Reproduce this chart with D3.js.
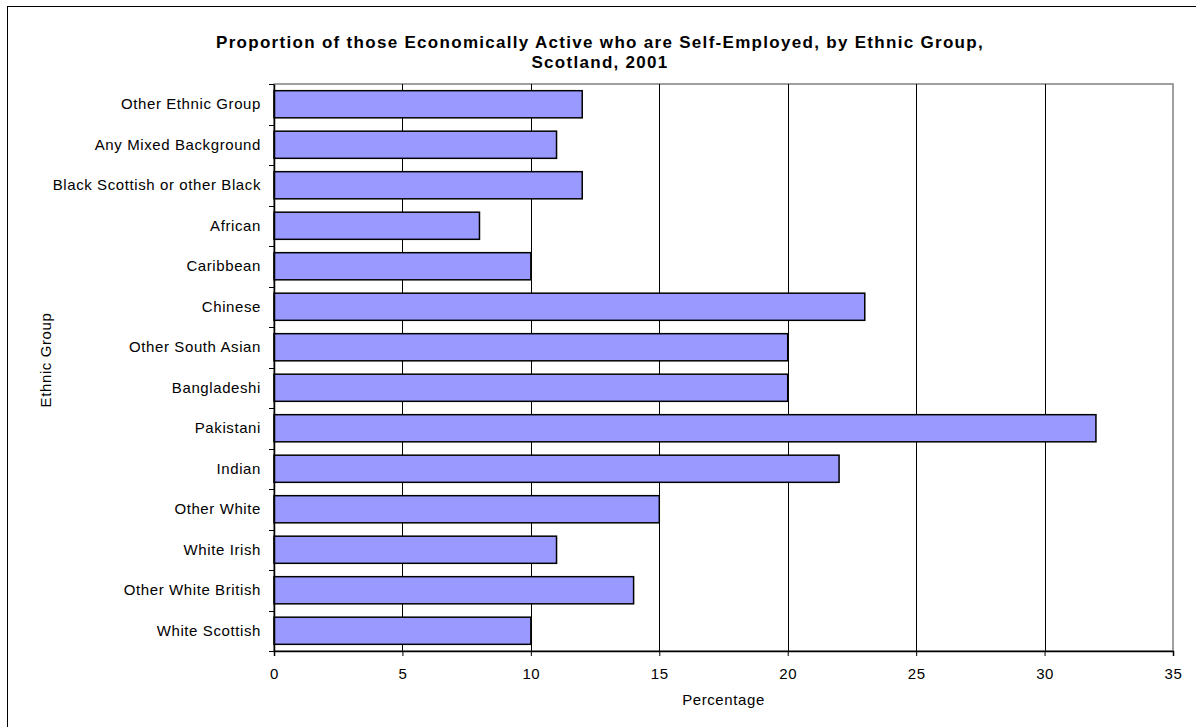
<!DOCTYPE html>
<html><head><meta charset="utf-8">
<script src="https://cdn.jsdelivr.net/npm/d3@7"></script>
<style>body{margin:0;background:#fff}svg{display:block;font-family:"Liberation Sans",Arial,sans-serif}</style>
</head><body>
<script>
const categories = ["Other Ethnic Group","Any Mixed Background","Black Scottish or other Black","African","Caribbean","Chinese","Other South Asian","Bangladeshi","Pakistani","Indian","Other White","White Irish","Other White British","White Scottish"];
const values = [12,11,12,8,10,23,20,20,32,22,15,11,14,10];
const xTicks = [0,5,10,15,20,25,30,35];
const titleLines = ["Proportion of those Economically Active who are Self-Employed, by Ethnic Group,","Scotland, 2001"];

const W=1196,H=727;
const FS=15, LS="0.6px";
const svg=d3.select("body").append("svg").attr("width",W).attr("height",H);
svg.append("rect").attr("x",7.5).attr("y",6.5).attr("width",1200).attr("height",740).attr("fill","#fff").attr("stroke","#000").attr("stroke-width",1);

const L=274,R=1173,T=84,B=651;
const x=d3.scaleLinear().domain([0,35]).range([L,R]);
const y=d3.scaleBand().domain(categories).range([T,B]).paddingInner(0.33).paddingOuter(0.165);

// plot border
svg.append("rect").attr("x",L).attr("y",T).attr("width",R-L).attr("height",B-T).attr("fill","none").attr("stroke","#808080").attr("stroke-width",1.5);
// grid
svg.append("g").selectAll("line").data(xTicks.slice(1,-1)).join("line")
 .attr("x1",d=>Math.round(x(d))+0.5).attr("x2",d=>Math.round(x(d))+0.5).attr("y1",T).attr("y2",B)
 .attr("stroke","#000").attr("stroke-width",1);

// bars
svg.append("g").selectAll("rect").data(values).join("rect")
 .attr("x",x(0)).attr("y",(d,i)=>y(categories[i])).attr("width",d=>x(d)-x(0)).attr("height",y.bandwidth())
 .attr("fill","#9999FF").attr("stroke","#000").attr("stroke-width",1.5);

// x axis
const xa=svg.append("g").attr("transform",`translate(0,${B})`).call(d3.axisBottom(x).tickValues(xTicks).tickSize(5).tickPadding(12).tickFormat(d3.format("d")));
xa.select(".domain").attr("stroke","#000").attr("stroke-width",1.5);
xa.selectAll("line").attr("stroke","#000");
xa.selectAll("text").attr("font-size",FS).attr("letter-spacing",LS).attr("font-family","Liberation Sans, Arial, sans-serif").attr("fill","#000");

// y axis
const ya=svg.append("g").attr("transform",`translate(${L},0)`).call(d3.axisLeft(y).tickSize(0).tickPadding(13));
ya.select(".domain").attr("stroke","#000").attr("stroke-width",1.5);
ya.selectAll("text").attr("font-size",FS).attr("letter-spacing",LS).attr("font-family","Liberation Sans, Arial, sans-serif").attr("fill","#000");
// band boundary ticks
const bounds=d3.range(categories.length+1).map(i=>T+i*(B-T)/categories.length);
svg.append("g").selectAll("line").data(bounds).join("line")
 .attr("x1",L-5).attr("x2",L).attr("y1",d=>Math.round(d)+0.5).attr("y2",d=>Math.round(d)+0.5).attr("stroke","#000");

// titles
svg.append("text").attr("x",600).attr("y",48).attr("text-anchor","middle").attr("font-weight","bold").attr("font-size",17).attr("letter-spacing","1.3px")
 .selectAll("tspan").data(titleLines).join("tspan").attr("x",600).attr("dy",(d,i)=>i?19.5:0).text(d=>d);
svg.append("text").attr("x",(L+R)/2).attr("y",705).attr("text-anchor","middle").attr("font-size",FS).attr("letter-spacing",LS).text("Percentage");
svg.append("text").attr("transform",`translate(51,360) rotate(-90)`).attr("text-anchor","middle").attr("font-size",FS).attr("letter-spacing",LS).text("Ethnic Group");
</script>
</body></html>
